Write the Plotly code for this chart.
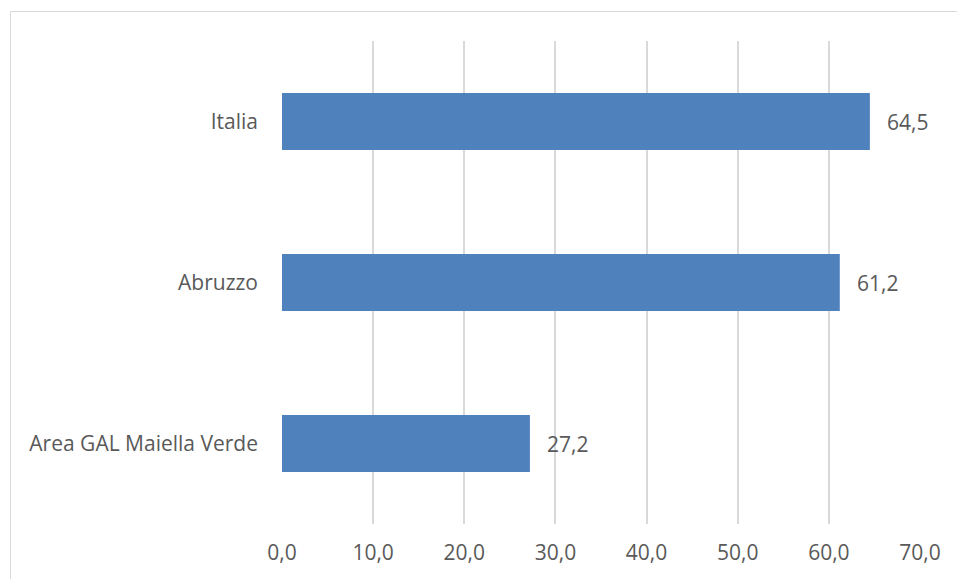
import plotly.graph_objects as go

categories = ["Area GAL Maiella Verde", "Abruzzo", "Italia"]
values = [27.2, 61.2, 64.5]
tick_vals = [0, 10, 20, 30, 40, 50, 60, 70]
tick_text = ["0,0", "10,0", "20,0", "30,0", "40,0", "50,0", "60,0", "70,0"]

W, H = 957, 579
L, R, T, B = 282, 37, 41, 55
pw, ph = W - L - R, H - T - B

font_family = "Open Sans, Liberation Sans, sans-serif"
fs = 21
txt_color = "#595959"
grid_color = "#D9D9D9"

fig = go.Figure()
fig.add_trace(go.Bar(
    x=values, y=categories, orientation="h",
    marker=dict(color="#4F81BD", line=dict(width=0)),
    hoverinfo="skip",
))

for c, v in zip(categories, values):
    fig.add_annotation(
        x=v, y=c, xref="x", yref="y",
        text=f"{v:.1f}".replace(".", ","),
        showarrow=False, xanchor="left", xshift=15,
        font=dict(family=font_family, size=fs, color=txt_color),
    )

# outer chart border (Excel-style chart area)
fig.add_shape(
    type="rect", xref="paper", yref="paper",
    x0=(10.5 - L) / pw, x1=(W + 5 - L) / pw,
    y0=(T + ph - (H + 5)) / ph, y1=(T + ph - 11.5) / ph,
    line=dict(color=grid_color, width=1), fillcolor="rgba(0,0,0,0)",
    layer="below",
)

fig.update_layout(
    width=W, height=H,
    margin=dict(l=L, r=R, t=T, b=B, autoexpand=False),
    paper_bgcolor="white", plot_bgcolor="white",
    bargap=0.646,
    showlegend=False,
    separators=",.",
    font=dict(family=font_family, size=fs, color=txt_color),
    xaxis=dict(
        range=[0, 70], tickvals=tick_vals, ticktext=tick_text,
        showgrid=True, gridcolor=grid_color, gridwidth=1.5,
        zeroline=False, showline=False, ticks="",
        ticklabelstandoff=14,
        tickfont=dict(family=font_family, size=fs, color=txt_color),
        fixedrange=True,
    ),
    yaxis=dict(
        categoryorder="array", categoryarray=categories,
        showgrid=False, zeroline=False, showline=False, ticks="",
        ticklabelstandoff=23,
        tickfont=dict(family=font_family, size=fs, color=txt_color),
        fixedrange=True,
    ),
)

fig.write_html(
    "out.html",
    config={"displayModeBar": False},
    post_script="document.body.style.margin='0';document.body.style.overflow='hidden';",
)
